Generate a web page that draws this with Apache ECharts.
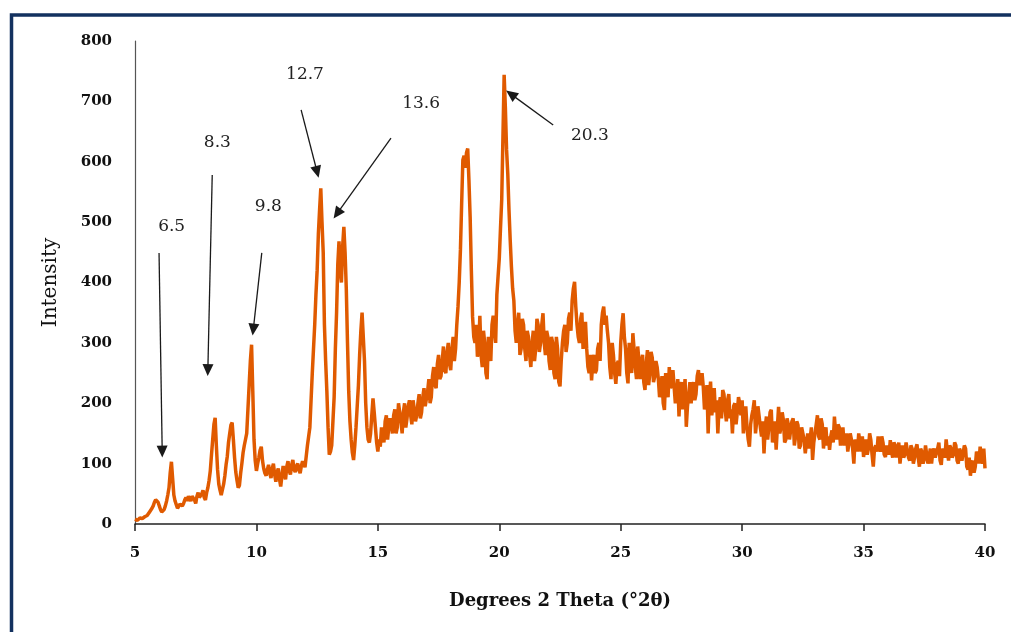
<!DOCTYPE html>
<html>
<head>
<meta charset="utf-8">
<script src="https://cdn.jsdelivr.net/npm/echarts@6/dist/echarts.min.js"></script>
<style>
  html, body { margin: 0; padding: 0; background: #fff; }
  #myChart { width: 1011px; height: 632px; }
</style>
</head>
<body>
<div id="myChart"></div>
<script>
// 2 theta start / step of the scan
var thetaStart = 5
var thetaStep = 0.1

// intensity at 5.0, 5.1, ... 40.0 (one row per degree)
var intensity = [
  8, 6, 10, 9, 12, 14, 20, 26, 36, 42,
  30, 20, 24, 38, 60, 103, 48, 32, 28, 36,
  34, 44, 46, 38, 48, 34, 52, 46, 56, 40,
  60, 88, 140, 176, 90, 56, 50, 80, 112, 150,
  168, 110, 72, 64, 100, 130, 150, 230, 297, 140,
  88, 110, 128, 92, 80, 98, 76, 100, 70, 92,
  62, 96, 74, 104, 82, 106, 86, 100, 84, 104,
  94, 130, 160, 250, 330, 420, 520, 500, 330, 220,
  115, 130, 210, 350, 468, 400, 492, 390, 220, 140,
  106, 160, 230, 320, 350, 200, 140, 150, 208, 160,
  120, 128, 150, 170, 140, 175, 150, 190, 160, 185,
  150, 200, 175, 205, 165, 190, 180, 215, 185, 225,
  195, 240, 210, 260, 225, 280, 245, 294, 250, 300,
  255, 310, 290, 360, 454, 603, 590, 622, 509, 343,
  300, 277, 345, 260, 300, 240, 290, 330, 320, 380,
  440, 537, 744, 620, 520, 426, 370, 300, 350, 290,
  330, 270, 310, 260, 320, 290, 330, 300, 349, 280,
  310, 255, 300, 240, 290, 228, 300, 330, 300, 350,
  370, 401, 330, 300, 350, 320, 290, 250, 238, 280,
  255, 300, 330, 360, 345, 300, 240, 280, 232, 270,
  300, 349, 290, 233, 270, 316, 260, 294, 240, 280,
  222, 288, 250, 275, 244, 260, 210, 245, 189, 230,
  260, 230, 258, 215, 178, 235, 211, 161, 215, 200,
  235, 215, 255, 240, 227, 200, 150, 236, 200, 185,
  150, 210, 222, 190, 205, 175, 150, 200, 185, 200,
  205, 175, 160, 128, 180, 205, 170, 178, 145, 117,
  178, 160, 189, 150, 123, 194, 160, 172, 140, 165,
  156, 175, 145, 164, 130, 150, 117, 150, 140, 106,
  150, 180, 140, 165, 150, 130, 123, 155, 178, 140,
  160, 145, 130, 150, 123, 140, 100, 134, 150, 120,
  111, 140, 125, 139, 95, 130, 145, 120, 135, 111,
  128, 139, 110, 130, 123, 100, 130, 115, 138, 105,
  125, 110, 132, 95, 120, 108, 130, 112, 100, 125,
  110, 135, 98, 120, 140, 105, 125, 115, 130, 100,
  120, 108, 125, 90, 80, 105, 95, 115, 128, 100,
  92
]

// intensity at the half steps 5.05, 5.15, ... 39.95
var intensityMid = [
  5, 9, 8, 11, 10, 17, 22, 30, 40, 36,
  24, 21, 30, 48, 85, 75, 38, 26, 33, 30,
  40, 38, 42, 46, 40, 46, 44, 50, 44, 52,
  72, 115, 165, 130, 66, 48, 66, 98, 135, 164,
  140, 86, 60, 84, 118, 140, 190, 270, 220, 105,
  100, 122, 105, 84, 90, 84, 92, 82, 86, 74,
  80, 82, 95, 88, 98, 90, 96, 90, 96, 100,
  112, 145, 205, 290, 380, 480, 556, 450, 270, 160,
  120, 170, 290, 430, 420, 460, 450, 300, 170, 118,
  130, 195, 280, 350, 270, 160, 135, 180, 185, 135,
  140, 160, 135, 180, 160, 165, 180, 150, 200, 170,
  185, 160, 195, 180, 205, 170, 200, 175, 210, 195,
  220, 200, 245, 230, 265, 240, 270, 255, 285, 265,
  290, 270, 330, 400, 530, 610, 615, 570, 420, 310,
  330, 290, 280, 320, 250, 310, 270, 345, 300, 410,
  490, 640, 690, 580, 470, 390, 320, 330, 280, 340,
  290, 320, 280, 300, 270, 340, 285, 330, 300, 320,
  270, 310, 250, 310, 235, 270, 320, 285, 340, 320,
  390, 360, 310, 340, 290, 335, 260, 280, 270, 250,
  290, 270, 350, 330, 320, 260, 300, 250, 265, 245,
  330, 310, 250, 300, 250, 290, 240, 270, 270, 235,
  265, 230, 285, 235, 270, 240, 225, 200, 250, 210,
  225, 255, 200, 240, 225, 190, 240, 195, 235, 225,
  205, 245, 230, 250, 190, 230, 210, 180, 225, 205,
  195, 175, 215, 170, 215, 190, 195, 165, 210, 180,
  150, 195, 140, 165, 190, 150, 195, 160, 170, 160,
  140, 185, 135, 170, 160, 150, 185, 135, 175, 140,
  170, 130, 170, 125, 160, 140, 135, 125, 160, 135,
  165, 145, 175, 125, 160, 145, 145, 135, 150, 165,
  130, 160, 140, 120, 150, 125, 140, 120, 135, 145,
  130, 115, 150, 115, 125, 120, 130, 145, 115, 130,
  115, 120, 135, 110, 135, 120, 110, 135, 110, 130,
  100, 125, 110, 125, 100, 130, 100, 125, 120, 110,
  125, 105, 125, 110, 120, 130, 110, 135, 105, 125,
  105, 130, 95, 110, 100, 85, 120, 100, 110, 125
]

// peak labels and their arrows, in data units
var peakLabels = ['6.5', '8.3', '9.8', '12.7', '13.6', '20.3']
var labelPos = [[6.51, 492], [8.39, 631], [10.49, 526], [12.0, 744], [16.78, 696], [23.73, 644]]
var arrowFrom = [[5.99, 449], [8.18, 578], [10.22, 449], [11.84, 686], [15.54, 639], [22.22, 661]]
var arrowTo = [[6.12, 120], [8.0, 255], [9.87, 322], [12.5, 583], [13.32, 514], [20.48, 712]]

var xTicks = { min: 5, max: 40, interval: 5 }
var yTicks = { min: 0, max: 800, interval: 100 }

var serif = '"DejaVu Serif", serif'

var points = []
intensity.forEach(function (v, i) {
  var x = thetaStart + i * thetaStep
  points.push([+x.toFixed(2), v])
  if (i < intensityMid.length) {
    points.push([+(x + thetaStep / 2).toFixed(2), intensityMid[i]])
  }
})

var arrows = arrowFrom.map(function (p, i) {
  return [{ coord: p }, { coord: arrowTo[i] }]
})

var labels = peakLabels.map(function (t, i) {
  return { name: t, coord: labelPos[i] }
})

var myChart = echarts.init(document.getElementById('myChart'))
myChart.setOption({
  animation: false,
  backgroundColor: '#fff',
  graphic: [
    {
      type: 'rect',
      shape: { x: 11.5, y: 15, width: 1100, height: 700 },
      style: { fill: 'none', stroke: '#13315f', lineWidth: 3.5 },
      silent: true
    }
  ],
  grid: {
    left: 135,
    right: 26,
    top: 41,
    bottom: 108
  },
  xAxis: {
    type: 'value',
    min: xTicks.min,
    max: xTicks.max,
    interval: xTicks.interval,
    name: 'Degrees 2 Theta (°2θ)',
    nameLocation: 'middle',
    nameGap: 68,
    nameTextStyle: { fontFamily: serif, fontWeight: 'bold', fontSize: 18, color: '#111' },
    axisLine: { onZero: false, lineStyle: { color: '#222', width: 1.5 } },
    axisTick: { show: true, inside: false, length: 7, lineStyle: { color: '#222', width: 1.5 } },
    axisLabel: { fontFamily: serif, fontWeight: 'bold', fontSize: 15, color: '#111', margin: 22 },
    splitLine: { show: false }
  },
  yAxis: {
    type: 'value',
    min: yTicks.min,
    max: yTicks.max,
    interval: yTicks.interval,
    name: 'Intensity',
    nameLocation: 'middle',
    nameGap: 74,
    nameTextStyle: { fontFamily: serif, fontSize: 20, color: '#111' },
    axisLine: { show: true, lineStyle: { color: '#555', width: 1.2 } },
    axisTick: { show: false },
    axisLabel: { fontFamily: serif, fontWeight: 'bold', fontSize: 15, color: '#111', margin: 23 },
    splitLine: { show: false }
  },
  series: [
    {
      name: 'Intensity',
      type: 'line',
      data: points,
      showSymbol: false,
      sampling: false,
      lineStyle: { color: '#e05a00', width: 3.5 },
      itemStyle: { color: '#e05a00' },
      markLine: {
        silent: true,
        symbol: ['none', 'triangle'],
        symbolSize: [11, 12],
        label: { show: false },
        lineStyle: { color: '#1a1a1a', width: 1.3, type: 'solid' },
        data: arrows
      },
      markPoint: {
        silent: true,
        symbol: 'circle',
        symbolSize: 1,
        itemStyle: { color: 'rgba(0,0,0,0)' },
        label: {
          show: true,
          position: 'inside',
          formatter: '{b}',
          fontFamily: serif,
          fontSize: 17,
          color: '#222'
        },
        data: labels
      }
    }
  ]
})

window.onresize = function () {
  myChart.resize()
}
</script>
</body>
</html>
